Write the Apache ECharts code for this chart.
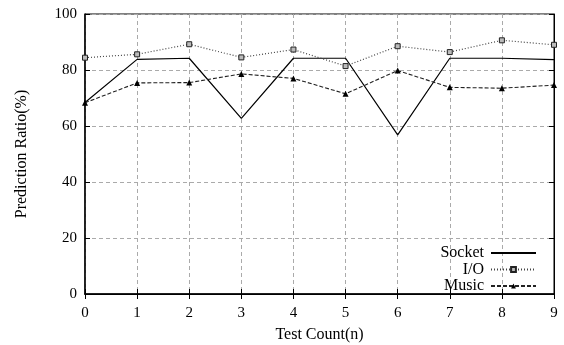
<!DOCTYPE html>
<html>
<head>
    <meta charset="utf-8">
    <title>Prediction Ratio</title>
    <script src="https://cdn.jsdelivr.net/npm/echarts@6/dist/echarts.min.js"></script>
</head>
<body style="margin:0">
<div id="main" style="width: 564px;height:345px;"></div>

<script type="text/javascript">
    // data
    var testCounts = ['0', '1', '2', '3', '4', '5', '6', '7', '8', '9'];
    var socketData = [68.4, 83.8, 84.2, 62.7, 84.2, 84.2, 56.8, 84.2, 84.2, 83.7];
    var ioData = [84.4, 85.6, 89.2, 84.5, 87.3, 81.4, 88.5, 86.4, 90.6, 89.0];
    var musicData = [68.3, 75.4, 75.5, 78.6, 77.0, 71.5, 79.8, 73.8, 73.5, 74.6];
    var yTicks = [0, 20, 40, 60, 80, 100];

    var font = 'Liberation Serif';
    var myChart = echarts.init(document.getElementById('main'));

    var mirrorAxis = {
        axisLine: { show: true, lineStyle: { color: '#000', width: 1 } },
        axisTick: { show: true, inside: true, length: 5, lineStyle: { color: '#000' } },
        axisLabel: { show: false },
        splitLine: { show: false }
    };

    var option = {
        backgroundColor: '#fff',
        animation: false,
        textStyle: { fontFamily: font, color: '#000' },
        grid: {
            left: 85, right: 10, top: 14, bottom: 51,
            outerBoundsMode: 'none',
            containLabel: false,
            show: true, borderColor: '#000', borderWidth: 1
        },
        legend: {
            orient: 'vertical',
            right: 22,
            top: 240,
            align: 'right',
            itemWidth: 45,
            itemHeight: 6,
            itemGap: 0.5,
            textStyle: { fontFamily: font, fontSize: 16, lineHeight: 16, color: '#000', padding: [0, 2, 0, 0] },
            data: [
                { name: 'Socket', itemStyle: { color: 'rgba(0,0,0,0)', borderWidth: 0 } },
                'I/O',
                'Music'
            ]
        },
        xAxis: [{
            type: 'category',
            data: testCounts,
            boundaryGap: false,
            name: 'Test Count(n)',
            nameLocation: 'middle',
            nameGap: 33,
            nameTextStyle: { fontFamily: font, fontSize: 16, color: '#000' },
            axisLine: { lineStyle: { color: '#000', width: 1.5 } },
            axisTick: { inside: true, length: 5, alignWithLabel: true, lineStyle: { color: '#000' } },
            axisLabel: { fontFamily: font, fontSize: 15, color: '#000', margin: 12 },
            splitLine: { show: true, lineStyle: { color: '#aaa', type: [4, 3] } }
        }, Object.assign({
            type: 'category',
            data: testCounts,
            boundaryGap: false,
            position: 'top'
        }, mirrorAxis)],
        yAxis: [{
            type: 'value',
            min: yTicks[0],
            max: yTicks[yTicks.length - 1],
            interval: 20,
            name: 'Prediction Ratio(%)',
            nameLocation: 'middle',
            nameGap: 55,
            nameTextStyle: { fontFamily: font, fontSize: 16, color: '#000' },
            axisLine: { show: true, lineStyle: { color: '#000', width: 1.5 } },
            axisTick: { show: true, inside: true, length: 5, lineStyle: { color: '#000' } },
            axisLabel: { fontFamily: font, fontSize: 15, color: '#000', margin: 8 },
            splitLine: { show: true, lineStyle: { color: '#aaa', type: [4, 3] } }
        }, Object.assign({
            type: 'value',
            min: 0, max: 100, interval: 20,
            position: 'right'
        }, mirrorAxis)],
        series: [
            {
                name: 'Socket',
                type: 'line',
                data: socketData,
                symbol: 'none',
                lineStyle: { color: '#000', width: 1.2 },
                itemStyle: { color: '#000' }
            },
            {
                name: 'I/O',
                type: 'line',
                data: ioData,
                symbol: 'rect',
                symbolSize: 5,
                lineStyle: { color: '#444', width: 1.2, type: [1, 2] },
                itemStyle: { color: '#bbb', borderColor: '#222', borderWidth: 1 }
            },
            {
                name: 'Music',
                type: 'line',
                data: musicData,
                symbol: 'triangle',
                symbolSize: 6,
                lineStyle: { color: '#222', width: 1.1, type: [4, 2] },
                itemStyle: { color: '#000' }
            }
        ]
    };

    myChart.setOption(option);
</script>
</body>
</html>
